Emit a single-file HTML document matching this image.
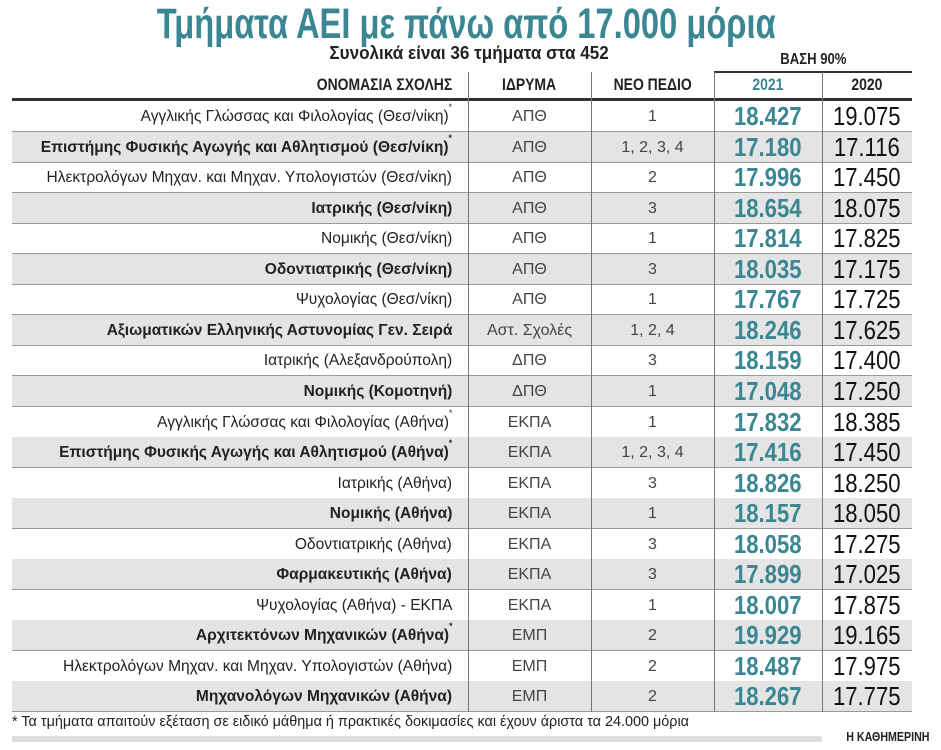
<!DOCTYPE html><html><head><meta charset="utf-8"><style>
body{margin:0;width:941px;height:750px;background:#fff;position:relative;overflow:hidden;font-family:"Liberation Sans",sans-serif;color:#222}
.t{position:absolute;white-space:nowrap}
.s{display:inline-block;transform:scaleX(0.82)}
.row{position:absolute;left:12px;width:900px;height:30px;border-bottom:1px solid #9a9a9a}
.g{background:#e4e4e4}
.row>div{position:absolute;top:0;height:30px;line-height:31px;white-space:nowrap}
.n{right:460px;font-size:16px;text-align:right;transform:scaleX(0.97);transform-origin:right center}
.b .n{font-weight:bold}
.i{left:456px;width:123px;text-align:center;font-size:16px;color:#444}
.p{left:579px;width:123px;text-align:center;font-size:16px;color:#444}
.a{left:702px;width:108px;text-align:center;font-size:26px;font-weight:bold;color:#3a8793}
.c{left:810px;width:90px;text-align:center;font-size:26px;color:#111}
.a span,.c span{display:inline-block;transform:scaleX(0.85)}
sup{font-size:9px;line-height:0;vertical-align:top;position:relative;top:6px}
.v{position:absolute;top:72px;width:1px;height:640px;background:#777}
</style></head><body>
<div class="t" style="left:0;width:941px;text-align:center;top:0px;font-size:43px;font-weight:bold;color:#3a8793;padding-right:8px;box-sizing:border-box"><span class="s" style="transform:scaleX(0.76)">Τμήματα ΑΕΙ με πάνω από 17.000 μόρια</span></div>
<div class="t" style="left:0;width:941px;text-align:center;top:43px;font-size:18px;font-weight:bold;padding-right:2px;box-sizing:border-box"><span class="s" style="transform:scaleX(0.95)">Συνολικά είναι 36 τμήματα στα 452</span></div>
<div class="t" style="left:714px;width:198px;text-align:center;top:51px;font-size:16px;font-weight:bold"><span class="s">ΒΑΣΗ 90%</span></div>
<div style="position:absolute;left:714px;top:71px;width:198px;height:2px;background:#333"></div>
<div class="t" style="right:489px;top:75px;font-size:17px;font-weight:bold"><span class="s" style="transform-origin:right center">ΟΝΟΜΑΣΙΑ ΣΧΟΛΗΣ</span></div>
<div class="t" style="left:468px;width:123px;text-align:center;top:75px;font-size:17px;font-weight:bold"><span class="s">ΙΔΡΥΜΑ</span></div>
<div class="t" style="left:591px;width:123px;text-align:center;top:75px;font-size:17px;font-weight:bold"><span class="s">ΝΕΟ ΠΕΔΙΟ</span></div>
<div class="t" style="left:714px;width:108px;text-align:center;top:75px;font-size:17px;font-weight:bold;color:#3a8793"><span class="s">2021</span></div>
<div class="t" style="left:822px;width:90px;text-align:center;top:75px;font-size:17px;font-weight:bold"><span class="s">2020</span></div>
<div style="position:absolute;left:12px;top:98px;width:900px;height:3px;background:#333"></div>
<div id="rows"></div>
<div class="t" style="left:12px;top:713px;font-size:15px"><span class="s" style="transform:scaleX(0.96);transform-origin:left center">* Τα τμήματα απαιτούν εξέταση σε ειδικό μάθημα ή πρακτικές δοκιμασίες και έχουν άριστα τα 24.000 μόρια</span></div>
<div style="position:absolute;left:12px;top:736px;width:810px;height:6px;background:#ddd"></div>
<div class="t" style="right:12px;top:729px;font-size:13px;font-weight:bold"><span class="s" style="transform-origin:right center">Η ΚΑΘΗΜΕΡΙΝΗ</span></div>
<div class="v" style="left:468px"></div><div class="v" style="left:591px"></div><div class="v" style="left:714px"></div><div class="v" style="left:822px"></div>
<script>
var d=[["Αγγλικής Γλώσσας και Φιλολογίας (Θεσ/νίκη)*","ΑΠΘ","1","18.427","19.075"],
["Επιστήμης Φυσικής Αγωγής και Αθλητισμού (Θεσ/νίκη)*","ΑΠΘ","1, 2, 3, 4","17.180","17.116"],
["Ηλεκτρολόγων Μηχαν. και Μηχαν. Υπολογιστών (Θεσ/νίκη)","ΑΠΘ","2","17.996","17.450"],
["Ιατρικής (Θεσ/νίκη)","ΑΠΘ","3","18.654","18.075"],
["Νομικής (Θεσ/νίκη)","ΑΠΘ","1","17.814","17.825"],
["Οδοντιατρικής (Θεσ/νίκη)","ΑΠΘ","3","18.035","17.175"],
["Ψυχολογίας (Θεσ/νίκη)","ΑΠΘ","1","17.767","17.725"],
["Αξιωματικών Ελληνικής Αστυνομίας Γεν. Σειρά","Αστ. Σχολές","1, 2, 4","18.246","17.625"],
["Ιατρικής (Αλεξανδρούπολη)","ΔΠΘ","3","18.159","17.400"],
["Νομικής (Κομοτηνή)","ΔΠΘ","1","17.048","17.250"],
["Αγγλικής Γλώσσας και Φιλολογίας (Αθήνα)*","ΕΚΠΑ","1","17.832","18.385"],
["Επιστήμης Φυσικής Αγωγής και Αθλητισμού (Αθήνα)*","ΕΚΠΑ","1, 2, 3, 4","17.416","17.450"],
["Ιατρικής (Αθήνα)","ΕΚΠΑ","3","18.826","18.250"],
["Νομικής (Αθήνα)","ΕΚΠΑ","1","18.157","18.050"],
["Οδοντιατρικής (Αθήνα)","ΕΚΠΑ","3","18.058","17.275"],
["Φαρμακευτικής (Αθήνα)","ΕΚΠΑ","3","17.899","17.025"],
["Ψυχολογίας (Αθήνα) - ΕΚΠΑ","ΕΚΠΑ","1","18.007","17.875"],
["Αρχιτεκτόνων Μηχανικών (Αθήνα)*","ΕΜΠ","2","19.929","19.165"],
["Ηλεκτρολόγων Μηχαν. και Μηχαν. Υπολογιστών (Αθήνα)","ΕΜΠ","2","18.487","17.975"],
["Μηχανολόγων Μηχανικών (Αθήνα)","ΕΜΠ","2","18.267","17.775"]];
var h="";d.forEach(function(r,k){var g=k%2==1;
h+='<div class="row'+(g?' g b':'')+'" style="top:'+(101+k*30.55)+'px"><div class="n">'+r[0].replace('*','<sup>*</sup>')+'</div><div class="i">'+r[1]+'</div><div class="p">'+r[2]+'</div><div class="a"><span>'+r[3]+'</span></div><div class="c"><span>'+r[4]+'</span></div></div>';});
document.getElementById("rows").innerHTML=h;
</script>
</body></html>
